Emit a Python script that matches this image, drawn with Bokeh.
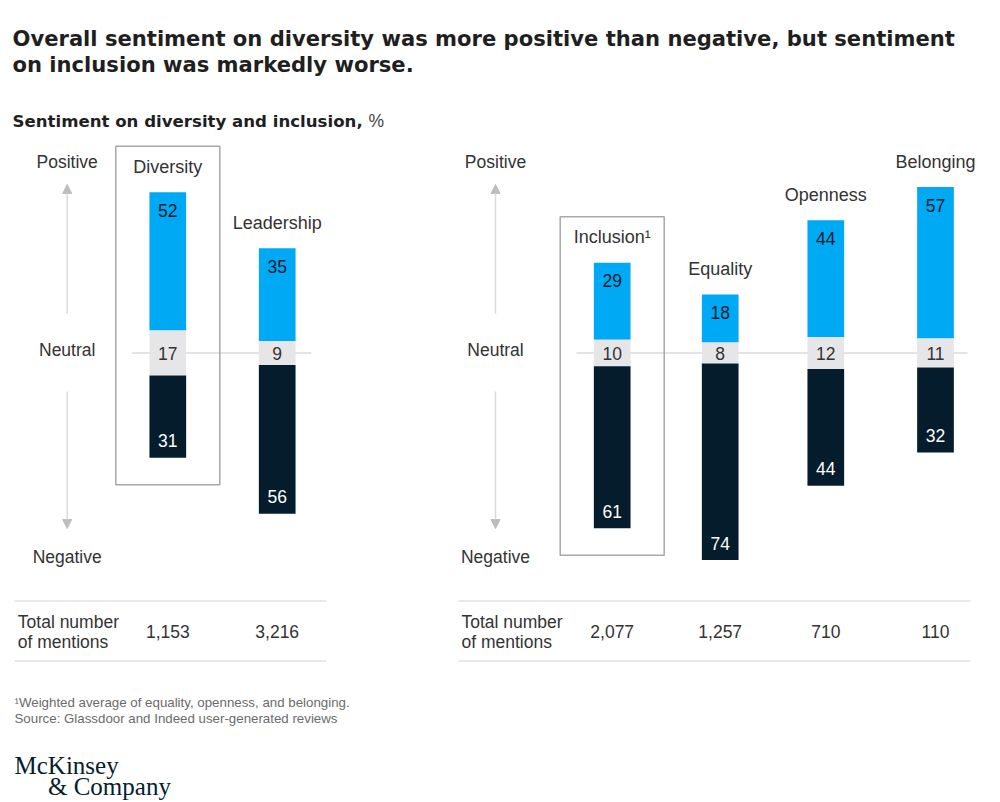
from bokeh.plotting import figure
from bokeh.models import ColumnDataSource, Range1d, Arrow, NormalHead, Label
from bokeh.embed import file_html
from bokeh.resources import INLINE
from bokeh.core.properties import value

# ---------------- data ----------------
left_categories = ["Diversity", "Leadership"]
left_positive = [52, 35]
left_neutral = [17, 9]
left_negative = [31, 56]
left_mentions = ["1,153", "3,216"]

right_categories = ["Inclusion\u00b9", "Equality", "Openness", "Belonging"]
right_positive = [29, 18, 44, 57]
right_neutral = [10, 8, 12, 11]
right_negative = [61, 74, 44, 32]
right_mentions = ["2,077", "1,257", "710", "110"]

boxed_categories = ["Diversity", "Inclusion\u00b9"]

title_lines = ["Overall sentiment on diversity was more positive than negative, but sentiment",
               "on inclusion was markedly worse."]
subtitle = "Sentiment on diversity and inclusion,"
subtitle_unit = "%"
footnotes = ["\u00b9Weighted average of equality, openness, and belonging.",
             "Source: Glassdoor and Indeed user-generated reviews"]

# ---------------- layout ----------------
W, H = 1000, 802
ZERO_PX = 352.5
PX_PER_PCT = 2.655
BAR_W = 36.7
left_x = [167.3, 276.7]
right_x = [611.7, 719.7, 825.3, 935.0]

BLUE = "#00A9F4"
GREY = "#E6E6E8"
NAVY = "#051C2C"
TXT = "#333333"
SANS = "Liberation Sans"
HEAD = "DejaVu Sans"


def py(pix):
    return (ZERO_PX - pix) / PX_PER_PCT


def dpx(pix):
    return pix / PX_PER_PCT


p = figure(width=W, height=H, x_range=Range1d(0, W),
           y_range=Range1d(py(H), py(0)), output_backend="svg",
           toolbar_location=None, min_border=0)
p.axis.visible = False
p.grid.visible = False
p.outline_line_color = None
p.background_fill_color = "white"
p.border_fill_color = "white"

cats = left_categories + right_categories
xs = left_x + right_x
pos = left_positive + right_positive
neu = left_neutral + right_neutral
neg = left_negative + right_negative
mentions = left_mentions + right_mentions

half = [n / 2 for n in neu]
src = ColumnDataSource(dict(
    cat=cats, x=xs,
    pos_bottom=half, pos_top=[h + v for h, v in zip(half, pos)],
    neu_bottom=[-h for h in half], neu_top=half,
    neg_top=[-h for h in half], neg_bottom=[-h - v for h, v in zip(half, neg)],
    pos_txt=[str(v) for v in pos], neu_txt=[str(v) for v in neu], neg_txt=[str(v) for v in neg],
    mentions=mentions,
))
src.data["pos_lbl_y"] = [t - dpx(18) for t in src.data["pos_top"]]
src.data["neg_lbl_y"] = [b + dpx(17) for b in src.data["neg_bottom"]]
src.data["zero"] = [0] * len(cats)
src.data["cat_y"] = [t + dpx(25.5) for t in src.data["pos_top"]]
src.data["ment_y"] = [py(631)] * len(cats)

# neutral baselines
p.segment(x0=[131.7, 576], x1=[310.7, 967], y0=[0, 0], y1=[0, 0],
          line_color="#C8C8C8", line_width=1)

# bars
p.vbar(x="x", width=BAR_W, bottom="pos_bottom", top="pos_top", source=src,
       fill_color=BLUE, line_color=None)
p.vbar(x="x", width=BAR_W, bottom="neu_bottom", top="neu_top", source=src,
       fill_color=GREY, line_color=None)
p.vbar(x="x", width=BAR_W, bottom="neg_bottom", top="neg_top", source=src,
       fill_color=NAVY, line_color=None)

# boxes around highlighted categories
bi = [cats.index(c) for c in boxed_categories]
p.quad(left=[xs[i] - 52 for i in bi], right=[xs[i] + 52 for i in bi],
       top=[src.data["pos_top"][i] + dpx(46) for i in bi],
       bottom=[src.data["neg_bottom"][i] - dpx(27) for i in bi],
       fill_color=None, line_color="#A8A8A8", line_width=1.5)

# values
common = dict(text_align="center", text_baseline="middle",
              text_font=value(SANS), text_font_size="17.5px")
p.text(x="x", y="pos_lbl_y", text="pos_txt", source=src, text_color=NAVY, **common)
p.text(x="x", y="zero", text="neu_txt", source=src, text_color=TXT, **common)
p.text(x="x", y="neg_lbl_y", text="neg_txt", source=src, text_color="white", **common)
p.text(x="x", y="cat_y", text="cat", source=src, text_color=TXT,
       **{**common, "text_font_size": "18px"})
p.text(x="x", y="ment_y", text="mentions", source=src, text_color=TXT, **common)


def label(x, ypix, text, size="17.5px", color=TXT, align="left", baseline="middle",
          font=SANS, style="normal"):
    p.add_layout(Label(x=x, y=py(ypix), text=text, text_font_size=size,
                       text_color=color, text_align=align, text_baseline=baseline,
                       text_font=font, text_font_style=style))


# side axis annotations
for ax in (66.7, 495):
    label(ax, 161.5, "Positive", align="center")
    label(ax, 349, "Neutral", align="center")
    label(ax, 556, "Negative", align="center")
    p.add_layout(Arrow(x_start=ax, y_start=py(313), x_end=ax, y_end=py(184),
                       line_color="#DADADA", line_width=1.5,
                       end=NormalHead(size=9, fill_color="#BDBDBD", line_color="#BDBDBD")))
    p.add_layout(Arrow(x_start=ax, y_start=py(391), x_end=ax, y_end=py(528),
                       line_color="#DADADA", line_width=1.5,
                       end=NormalHead(size=9, fill_color="#BDBDBD", line_color="#BDBDBD")))

# table rules
p.segment(x0=[14, 14, 458, 458], x1=[326, 326, 970, 970],
          y0=[py(600.5), py(660.5), py(600.5), py(660.5)],
          y1=[py(600.5), py(660.5), py(600.5), py(660.5)],
          line_color="#E2E2E2", line_width=1.5)
for tx in (17.3, 461):
    label(tx, 621.5, "Total number")
    label(tx, 641, "of mentions")

# titles
label(12, 37.7, title_lines[0], size="21.1px", color="#1F1F1F", baseline="alphabetic",
      font=HEAD, style="bold")
label(12, 64.3, title_lines[1], size="21.1px", color="#1F1F1F", baseline="alphabetic",
      font=HEAD, style="bold")
label(12, 120.5, subtitle, size="16.6px", color="#1F1F1F", baseline="alphabetic",
      font=HEAD, style="bold")
label(368, 120.5, subtitle_unit, size="17.5px", color="#444444", baseline="alphabetic")

# footnotes
label(14, 702, footnotes[0], size="13.3px", color="#6B6B6B")
label(14, 718, footnotes[1], size="13.3px", color="#6B6B6B")

# logo
label(14, 765, "McKinsey", size="25px", color=NAVY, baseline="alphabetic", font="Liberation Serif")
label(47.5, 786, "& Company", size="25px", color=NAVY, baseline="alphabetic", font="Liberation Serif")

open("out.html", "w").write(file_html(p, INLINE))
